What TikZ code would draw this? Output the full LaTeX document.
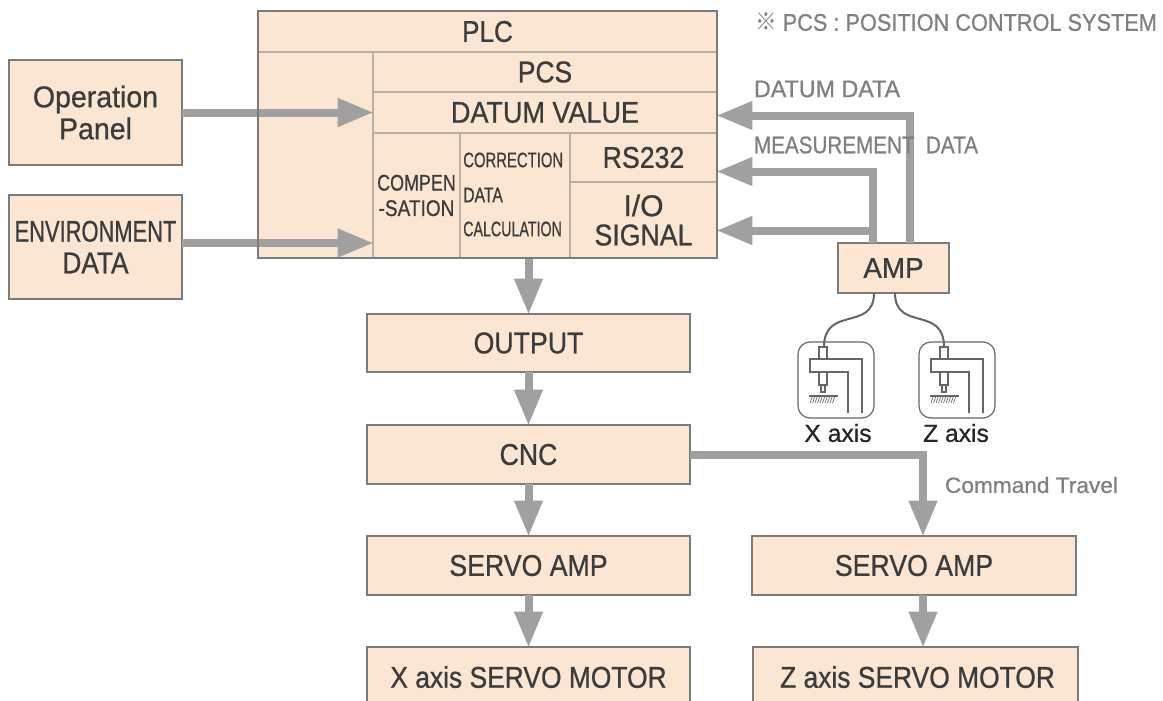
\documentclass[tikz,border=0pt]{standalone}
\usepackage{fontspec}
\usepackage{graphicx}
\setmainfont[FakeBold=0.8]{Liberation Sans}
\newfontfamily\cjkfont{Noto Sans CJK KR}
\usetikzlibrary{arrows.meta}
\definecolor{boxfill}{HTML}{FBE6D4}
\definecolor{edgeout}{HTML}{7B7B7B}
\definecolor{edgein}{HTML}{B8AFA6}
\definecolor{arrgray}{HTML}{A0A0A0}
\definecolor{inktext}{HTML}{3C3C3C}
\definecolor{softtext}{HTML}{808080}
\definecolor{sensline}{HTML}{666666}
% \T{xscale}{size in pt}{text}
\newcommand\T[3]{\scalebox{#1}[1]{\fontsize{#2}{#2}\selectfont #3}}
\newcommand\bx[6][boxstyle]{\node[#1,minimum width={(#4-#2)*0.75pt},minimum height={(#5-#3)*0.75pt}] (#6) at ({(#2+#4)/2},{(#3+#5)/2})}
\tikzset{
  boxstyle/.style={draw=edgeout,fill=boxfill,line width=2.2pt,inner sep=0pt,outer sep=0pt,text=inktext,align=center},
  cellstyle/.style={draw=edgein,fill=boxfill,line width=1.5pt,inner sep=0pt,outer sep=0pt,text=inktext,align=center},
  frameonly/.style={draw=edgeout,line width=2.2pt,inner sep=0pt,outer sep=0pt},
  arr/.style={draw=arrgray,line width=6pt,-{Triangle[length=27pt,width=20pt]},shorten >=-0.5pt},
  wire/.style={draw=sensline,line width=1.5pt},
  sensbox/.style={draw=sensline,line width=0.9pt,rounded corners=9pt,fill=white,inner sep=0pt,outer sep=0pt},
  senspart/.style={draw=sensline,line width=0.8pt},
  softlabel/.style={text=softtext,anchor=west,inner sep=0pt,outer sep=0pt},
  axislabel/.style={text=black!85,inner sep=0pt,outer sep=0pt},
}
\newcommand\sensor[1]{%
  \begin{scope}[shift={(#1)}]
    \draw[senspart,fill=white] (21,5) rectangle (29,17);
    \draw[senspart,fill=white] (21,30) -- (21,43) -- (29,43) -- (29,30);
    \draw[senspart,fill=white] (23,43) rectangle (27,50);
    \draw[senspart] (64,71) -- (64,17) -- (12,17) -- (12,30) -- (50,30) -- (50,71);
    \draw[senspart] (11,54) -- (40,54);
    \foreach \hx in {13,15.5,...,36}{\draw[senspart,line width=0.5pt] (\hx+1.5,54) -- (\hx-1,61);}
  \end{scope}}
\begin{document}
\begin{tikzpicture}[x=0.75pt,y=-0.75pt]
\clip (0,0) rectangle (1163,700);
\fill[white] (0,0) rectangle (1163,700);
% connector routing coordinates
\coordinate (envy) at (0,243);
\coordinate (datumy) at (0,115.5);
\coordinate (measy) at (0,171.5);
\coordinate (ioy) at (0,230.5);
\coordinate (datumx) at (910,0);
\coordinate (measx) at (873,0);
\coordinate (cmdx) at (923,0);
\coordinate (wirexa) at (874,0);
\coordinate (wirexb) at (895,0);
% PLC cells
\bx[cellstyle]{258}{11}{717}{52}{plc}{\T{.87}{22.5}{PLC}};
\bx[cellstyle]{258}{52}{373}{258}{plcleft}{};
\bx[cellstyle]{373}{52}{717}{92}{pcs}{\T{.88}{22.5}{PCS}};
\bx[cellstyle]{373}{92}{717}{133}{datum}{\T{.9}{22.5}{DATUM VALUE}};
\bx[cellstyle]{373}{133}{460}{258}{comp}{\T{.79}{17}{COMPEN}\\[6pt]\T{.84}{17}{-SATION}};
\bx[cellstyle]{460}{133}{570}{258}{corr}{};
\bx[cellstyle]{570}{133}{717}{182}{rs}{\T{.89}{22.5}{RS232}};
\bx[cellstyle]{570}{182}{717}{258}{io}{\T{1}{22.5}{I/O}\\[5pt]\T{.89}{22.5}{SIGNAL}};
\node[text=inktext,anchor=west,inner sep=0pt] (corra) at (463,160) {\T{.71}{15.7}{CORRECTION}};
\node[text=inktext,anchor=west,inner sep=0pt] (corrb) at (463,195) {\T{.75}{15.7}{DATA}};
\node[text=inktext,anchor=west,inner sep=0pt] (corrc) at (463,229) {\T{.68}{15.7}{CALCULATION}};
% other boxes
\bx{9}{60}{182}{165}{oppanel}{\T{.95}{22.5}{Operation}\\[2pt]\T{.95}{22.5}{Panel}};
\bx{9}{195}{182}{299}{envdata}{\T{.73}{22.5}{ENVIRONMENT}\\[7pt]\T{.875}{22.5}{DATA}};
\bx{367}{314}{690}{372}{output}{\T{.89}{22.5}{OUTPUT}};
\bx{367}{425}{690}{484}{cnc}{\T{.89}{22.5}{CNC}};
\bx{367}{536}{690}{595}{servox}{\T{.89}{22.5}{SERVO AMP}};
\bx{752}{536}{1076}{595}{servoz}{\T{.89}{22.5}{SERVO AMP}};
\bx{367}{647}{690}{708}{motorx}{};
\bx{753}{647}{1078}{708}{motorz}{};
\node[text=inktext,inner sep=0pt] (motorxt) at (528.5,677) {\T{.88}{22.5}{X axis SERVO MOTOR}};
\node[text=inktext,inner sep=0pt] (motorzt) at (917.5,677) {\T{.88}{22.5}{Z axis SERVO MOTOR}};
\bx{838}{243}{949}{293}{amp}{\T{.97}{21.5}{AMP}};
% arrows
\draw[arr] (oppanel.east) -- (datum.west);
\draw[arr] (envdata.east |- envy) -- (comp.west |- envy);
\draw[arr] (output.north |- plcleft.south) -- (output.north);
\draw[arr] (output.south) -- (cnc.north);
\draw[arr] (cnc.south) -- (servox.north);
\draw[arr] (servox.south) -- (motorx.north);
\draw[arr] (servoz.south -| cmdx) -- (motorz.north -| cmdx);
\draw[arr] (cnc.east) -| (servoz.north -| cmdx);
\draw[arr] (amp.north -| datumx) |- (datum.east |- datumy);
\draw[arr] (amp.north -| measx) |- (rs.east |- measy);
\draw[arr] (amp.north -| measx) ++(0,-12.5) -- (io.east |- ioy);
% PLC outer frame
\bx[frameonly]{258}{11}{717}{258}{plcframe}{};
% sensors
\node[sensbox,minimum width=57pt,minimum height=57pt] (sensx) at (836,380) {};
\node[sensbox,minimum width=57pt,minimum height=57pt] (sensz) at (957,380) {};
\sensor{798,342}
\sensor{919,342}
\draw[wire] (amp.south -| wirexa) .. controls (874,332) and (824,305) .. (824,347);
\draw[wire] (amp.south -| wirexb) .. controls (895,332) and (944,305) .. (944,347);
\node[axislabel] (xlabel) at (838,433) {\T{1}{18.5}{X axis}};
\node[axislabel] (zlabel) at (956,433) {\T{1}{18.5}{Z axis}};
% notes
\node[softlabel] (note) at (755,22) {\T{.905}{18}{{\cjkfont ※} PCS : POSITION CONTROL SYSTEM}};
\node[softlabel] (datumlabel) at (754,89) {\T{.97}{18}{DATUM DATA}};
\node[softlabel] (measlabel) at (754,145) {\T{.86}{18}{MEASUREMENT\ \ DATA}};
\node[softlabel] (cmdlabel) at (945,485) {\T{1.03}{16.5}{Command Travel}};
\end{tikzpicture}
\end{document}
